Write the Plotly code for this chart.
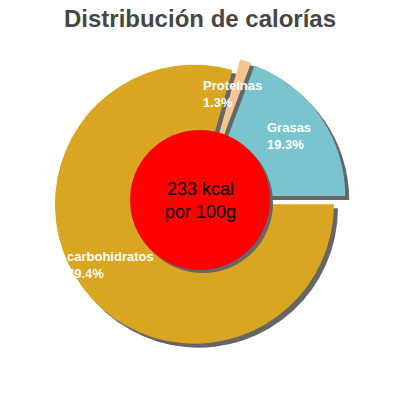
import plotly.graph_objects as go

# data
labels = ["Proteínas", "Grasas", "carbohidratos"]
percents = [1.3, 19.3, 79.4]
colors = ["#f2c68e", "#79c4cd", "#daa520"]
kcal = 233

# layout helpers: page pixels of the 400x400 window, the page body has an 8px margin
OFF = 8
W = H = 400 - OFF
cx, cy = 200, 200
radius = 139.5
pull = 0.05
shadow = 4
hole_r = 70
label_pos = [(203, 94), (267, 135.5), (67, 264.5)]  # left x, centre y of the two-line label


def px(x):
    return (x - OFF) / W


def py(y):
    return 1 - (y - OFF) / H


half = radius * (1 + pull)
# carbs (last slice) ends at 3 o'clock, so start the first slice accordingly
rotation = 90 - 360 * sum(percents[:-1]) / sum(percents)

fig = go.Figure()

# shadow pie
fig.add_trace(go.Pie(
    values=percents,
    labels=labels,
    sort=False,
    direction="clockwise",
    rotation=rotation,
    pull=[pull] * len(percents),
    marker=dict(colors=["#666666"] * len(percents), line=dict(width=0)),
    textinfo="none",
    hoverinfo="skip",
    showlegend=False,
    domain=dict(x=[px(cx - half + shadow), px(cx + half + shadow)],
                y=[py(cy + half + shadow), py(cy - half + shadow)]),
))

# main pie
fig.add_trace(go.Pie(
    values=percents,
    labels=labels,
    sort=False,
    direction="clockwise",
    rotation=rotation,
    pull=[pull] * len(percents),
    marker=dict(colors=colors, line=dict(width=0)),
    textinfo="none",
    hoverinfo="label+percent",
    showlegend=False,
    domain=dict(x=[px(cx - half), px(cx + half)],
                y=[py(cy + half), py(cy - half)]),
))

# red centre disk with its shadow
fig.add_shape(type="circle", xref="paper", yref="paper",
              x0=px(cx - hole_r + 3), x1=px(cx + hole_r + 3),
              y0=py(cy + hole_r + 3), y1=py(cy - hole_r + 3),
              fillcolor="#666666", line=dict(width=0))
fig.add_shape(type="circle", xref="paper", yref="paper",
              x0=px(cx - hole_r), x1=px(cx + hole_r),
              y0=py(cy + hole_r), y1=py(cy - hole_r),
              fillcolor="#ff0000", line=dict(width=0))

fig.add_annotation(x=px(cx), y=py(cy), xref="paper", yref="paper",
                   text=f"{kcal} kcal<br>por 100g", showarrow=False,
                   font=dict(family="Liberation Sans, Arial", size=18, color="black"))

# slice labels
for (lx, ly), name, p in zip(label_pos, labels, percents):
    fig.add_annotation(x=px(lx), y=py(ly), xref="paper", yref="paper",
                       text=f"{name}<br>{p}%", showarrow=False,
                       xanchor="left", yanchor="middle", align="left",
                       borderpad=0, borderwidth=0,
                       font=dict(family="Liberation Sans, Arial", size=13,
                                 color="white", weight="bold"))

fig.update_layout(
    width=W, height=H,
    margin=dict(l=0, r=0, t=0, b=0),
    paper_bgcolor="white",
    title=dict(text="Distribución de calorías", x=px(cx), xanchor="center",
               y=py(19), yanchor="middle",
               font=dict(family="Liberation Sans, Arial", size=24, color="#464646", weight="bold")),
)

fig.write_html("out.html")
